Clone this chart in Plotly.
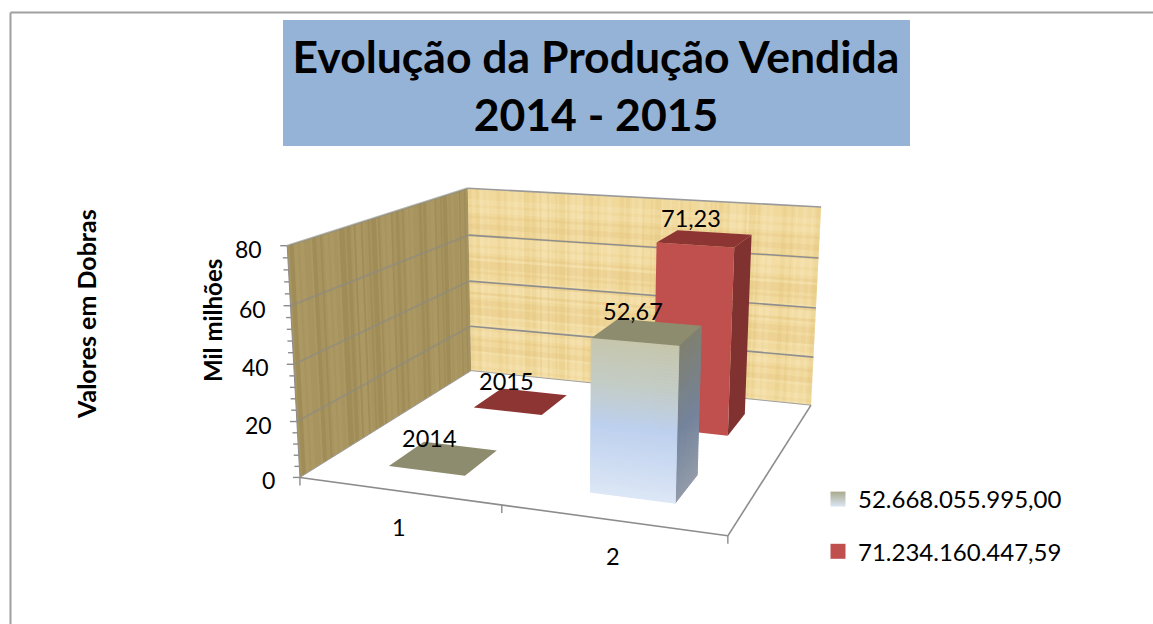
import numpy as np
import plotly.graph_objects as go

TITLE = "Evolução da Produção Vendida<br>2014 - 2015"
CATS = ["1", "2"]
SERIES_A = [2014.0, 52668055995.00]
SERIES_B = [2015.0, 71234160447.59]
NAME_A = "52.668.055.995,00"
NAME_B = "71.234.160.447,59"
LABELS_A = ["2014", "52,67"]
LABELS_B = ["2015", "71,23"]
Z_TICKS = [0, 20, 40, 60, 80]
SCALE = 1e9

# camera calibration: box corners (cat, depth, value) -> page position
BOX = [(0,0,0),(2,0,0),(2,1,0),(0,1,0),(0,1,80),(2,1,80),(0,0,80)]
PAGE = [(300,477),(728,536),(811,405),(471,371),(468,188),(821,207),(287,246)]
A = []
b = []
for (X,Y,Z),(u,v) in zip(BOX,PAGE):
    A.append([X,Y,Z,1,0,0,0,0,-u*X,-u*Y,-u*Z]); b.append(u)
    A.append([0,0,0,0,X,Y,Z,1,-v*X,-v*Y,-v*Z]); b.append(v)
p = np.linalg.lstsq(np.array(A,float),np.array(b,float),rcond=None)[0]
P = np.append(p,1).reshape(3,4)
def pr(X,Y,Z):
    w = P @ np.array([X,Y,Z,1.0])
    return float(w[0]/w[2]), float(w[1]/w[2])

W, H = 1153, 624

fig = go.Figure()
def poly(pts,color,line=None,lw=0):
    xs=[q[0] for q in pts]+[pts[0][0]]; ys=[q[1] for q in pts]+[pts[0][1]]
    fig.add_trace(go.Scatter(x=xs,y=ys,mode="lines",fill="toself",fillcolor=color,
        line=dict(color=line or color,width=lw if line else 0),hoverinfo="skip",showlegend=False))
def multi(quads,color):
    xs=[];ys=[]
    for q in quads:
        xs+= [c[0] for c in q]+[q[0][0],None]; ys+=[c[1] for c in q]+[q[0][1],None]
    fig.add_trace(go.Scatter(x=xs,y=ys,mode="none",fill="toself",fillcolor=color,hoverinfo="skip",showlegend=False))
def seg(a,b,color="#8c8c8c",w=1.5):
    fig.add_trace(go.Scatter(x=[a[0],b[0]],y=[a[1],b[1]],mode="lines",line=dict(color=color,width=w),hoverinfo="skip",showlegend=False))

# walls
back=[pr(0,1,0),pr(2,1,0),pr(2,1,80),pr(0,1,80)]
left=[pr(0,0,0),pr(0,1,0),pr(0,1,80),pr(0,0,80)]
poly(back,"#f1d99c"); poly(left,"#a8945f")
def streak(i): return np.sin(i*1.73)+np.sin(i*0.41+1.0)+0.6*np.sin(i*3.1)
N=170
dk=[];lt=[]
for i in range(N):
    a=2*i/N;c=2*(i+1)/N
    q=[pr(a,1,0),pr(c,1,0),pr(c,1,80),pr(a,1,80)]
    s=streak(i)
    if s>0.7: dk.append(q)
    elif s<-0.7: lt.append(q)
multi(dk,"rgba(205,160,70,0.11)"); multi(lt,"rgba(255,245,215,0.16)")
dk=[];lt=[]
for i in range(70):
    a=80*i/70;c=80*(i+1)/70
    q=[pr(0,1,a),pr(2,1,a),pr(2,1,c),pr(0,1,c)]
    s=streak(i+7)
    if s>0.6: dk.append(q)
    elif s<-0.6: lt.append(q)
multi(dk,"rgba(205,160,70,0.10)"); multi(lt,"rgba(255,245,215,0.15)")
dk=[];lt=[]
for i in range(110):
    a=i/110;c=(i+1)/110
    q=[pr(0,a,0),pr(0,c,0),pr(0,c,80),pr(0,a,80)]
    s=streak(i+3)
    if s>0.6: dk.append(q)
    elif s<-0.6: lt.append(q)
multi(dk,"rgba(110,90,40,0.13)"); multi(lt,"rgba(200,180,125,0.14)")

# gridlines
for z in Z_TICKS[1:]:
    seg(pr(0,1,z),pr(2,1,z),"#8e8e8e" if z<80 else "#9a9a9a",1.6)
    seg(pr(0,0,z),pr(0,1,z),"rgba(140,140,130,0.65)",2)
seg(pr(0,1,0),pr(2,1,0),"#a0a0a0",1); seg(pr(0,0,0),pr(0,1,0),"#a0a0a0",1)
seg(pr(0,0,0),pr(0,0,80),"#8c8c8c",1)
# floor edges and axis
seg(pr(0,0,0),pr(2,0,0),"#8c8c8c",1.6); seg(pr(2,0,0),pr(2,1,0),"#8c8c8c",1.6)
for c in (0,1,2):
    a=pr(c,0,0); seg(a,(a[0],a[1]+8),"#8c8c8c",1.4)
for z in range(0,81,4):
    a=pr(0,0,z); l=7 if z%20==0 else 5
    seg((a[0]-l,a[1]),a,"#8c8c8c",1.4)

def hexmix(c1,c2,t):
    a=[int(c1[i:i+2],16) for i in (1,3,5)]; b=[int(c2[i:i+2],16) for i in (1,3,5)]
    return "#%02x%02x%02x"%tuple(round(a[i]+(b[i]-a[i])*t) for i in range(3))
def grad(stops,t):
    for (t0,c0),(t1,c1) in zip(stops,stops[1:]):
        if t<=t1: return hexmix(c0,c1,(t-t0)/(t1-t0))
    return stops[-1][1]
FRONT=[(0,"#c6c6ac"),(.28,"#c3ccc6"),(.55,"#bdd0ee"),(1,"#dce7f6")]
SIDE=[(0,"#7f8170"),(.55,"#74849c"),(1,"#9099a8")]

BW=0.39
CX=0.505
DEPTH={"A":(0.145,0.34),"B":(0.655,0.855)}
def bar(cat,series,val):
    x0=cat+CX-BW/2; x1=cat+CX+BW/2
    d0,d1=DEPTH[series]
    if series=="B":
        if val>0.01:
            poly([pr(x1,d0,0),pr(x1,d1,0),pr(x1,d1,val),pr(x1,d0,val)],"#7f322f")
            poly([pr(x0,d0,0),pr(x1,d0,0),pr(x1,d0,val),pr(x0,d0,val)],"#c0504d")
        poly([pr(x0,d0,val),pr(x1,d0,val),pr(x1,d1,val),pr(x0,d1,val)],"#8c3533")
    else:
        if val>0.01:
            n=50
            for i in range(n):
                a=val*(1-i/n);c=val*(1-(i+1)/n)
                col=grad(SIDE,(i+.5)/n)
                poly([pr(x1,d0,c),pr(x1,d1,c),pr(x1,d1,a),pr(x1,d0,a)],col,col,1)
            for i in range(n):
                a=val*(1-i/n);c=val*(1-(i+1)/n)
                col=grad(FRONT,(i+.5)/n)
                poly([pr(x0,d0,c),pr(x1,d0,c),pr(x1,d0,a),pr(x0,d0,a)],col,col,1)
        poly([pr(x0,d0,val),pr(x1,d0,val),pr(x1,d1,val),pr(x0,d1,val)],"#8e8c6e")
    t=[pr(x0,d0,val),pr(x1,d0,val),pr(x1,d1,val),pr(x0,d1,val)]
    return sum(q[0] for q in t)/4,sum(q[1] for q in t)/4

anns=[]
def text(x,y,s,size=23.5,bold=False,angle=0,xa="center"):
    anns.append(dict(x=x,y=y,xref="x",yref="y",text=f"<b>{s}</b>" if bold else s,showarrow=False,
        font=dict(family="Lato",size=size,color="#000000"),textangle=angle,xanchor=xa,yanchor="middle"))
vals_a=[v/SCALE for v in SERIES_A]; vals_b=[v/SCALE for v in SERIES_B]
for i in range(2):
    cb=bar(i,"B",vals_b[i]); ca=bar(i,"A",vals_a[i])
    text(cb[0]-14,cb[1]-21,LABELS_B[i]); text(ca[0]-14,ca[1]-21,LABELS_A[i])
for i,c in enumerate(CATS):
    a=pr(i+.5,0,0); text(a[0]+1,a[1]+36,c)
for z in Z_TICKS:
    a=pr(0,0,z); text(a[0]-23,a[1]+3,str(z),23,xa="right")
text(212,321,"Mil milhões",24,True,-90)
text(86,314,"Valores em Dobras",25,True,-90)

fig.add_trace(go.Scatter(x=[None],y=[None],mode="markers",name=NAME_A,
    marker=dict(symbol="square",size=15,color="#aaa98c",gradient=dict(type="vertical",color="#dbe6f5")),legendgroup="a"))
fig.add_trace(go.Scatter(x=[None],y=[None],mode="markers",name=NAME_B,
    marker=dict(symbol="square",size=15,color="#c0504d"),legendgroup="b"))

fig.update_layout(width=W,height=H,margin=dict(l=0,r=0,t=0,b=0),autosize=False,
    paper_bgcolor="#ffffff",plot_bgcolor="#ffffff",
    xaxis=dict(range=[0,W],visible=False,fixedrange=True),
    yaxis=dict(range=[H,0],visible=False,fixedrange=True),
    title=dict(text=f"<b>{TITLE}</b>",x=596/W,xanchor="center",y=1-73/H,yanchor="middle",
        font=dict(family="Lato",size=44.5,color="#000000")),
    legend=dict(x=818/W,y=1-477/H,xanchor="left",yanchor="top",tracegroupgap=18,bgcolor="rgba(0,0,0,0)",
        font=dict(family="Lato",size=24,color="#000000")),
    annotations=anns,
    shapes=[dict(type="rect",xref="x",yref="y",x0=283,x1=910,y0=20,y1=146,fillcolor="#95b3d7",line=dict(width=0),layer="below"),
            dict(type="line",xref="x",yref="y",x0=10.5,x1=W,y0=12.5,y1=12.5,line=dict(color="#a0a0a0",width=2)),
            dict(type="line",xref="x",yref="y",x0=10.5,x1=10.5,y0=12.5,y1=H,line=dict(color="#a0a0a0",width=2))])
fig.write_html("out.html", config={"displayModeBar":False},
    post_script="document.body.style.margin='0';document.documentElement.style.overflow='hidden';")
